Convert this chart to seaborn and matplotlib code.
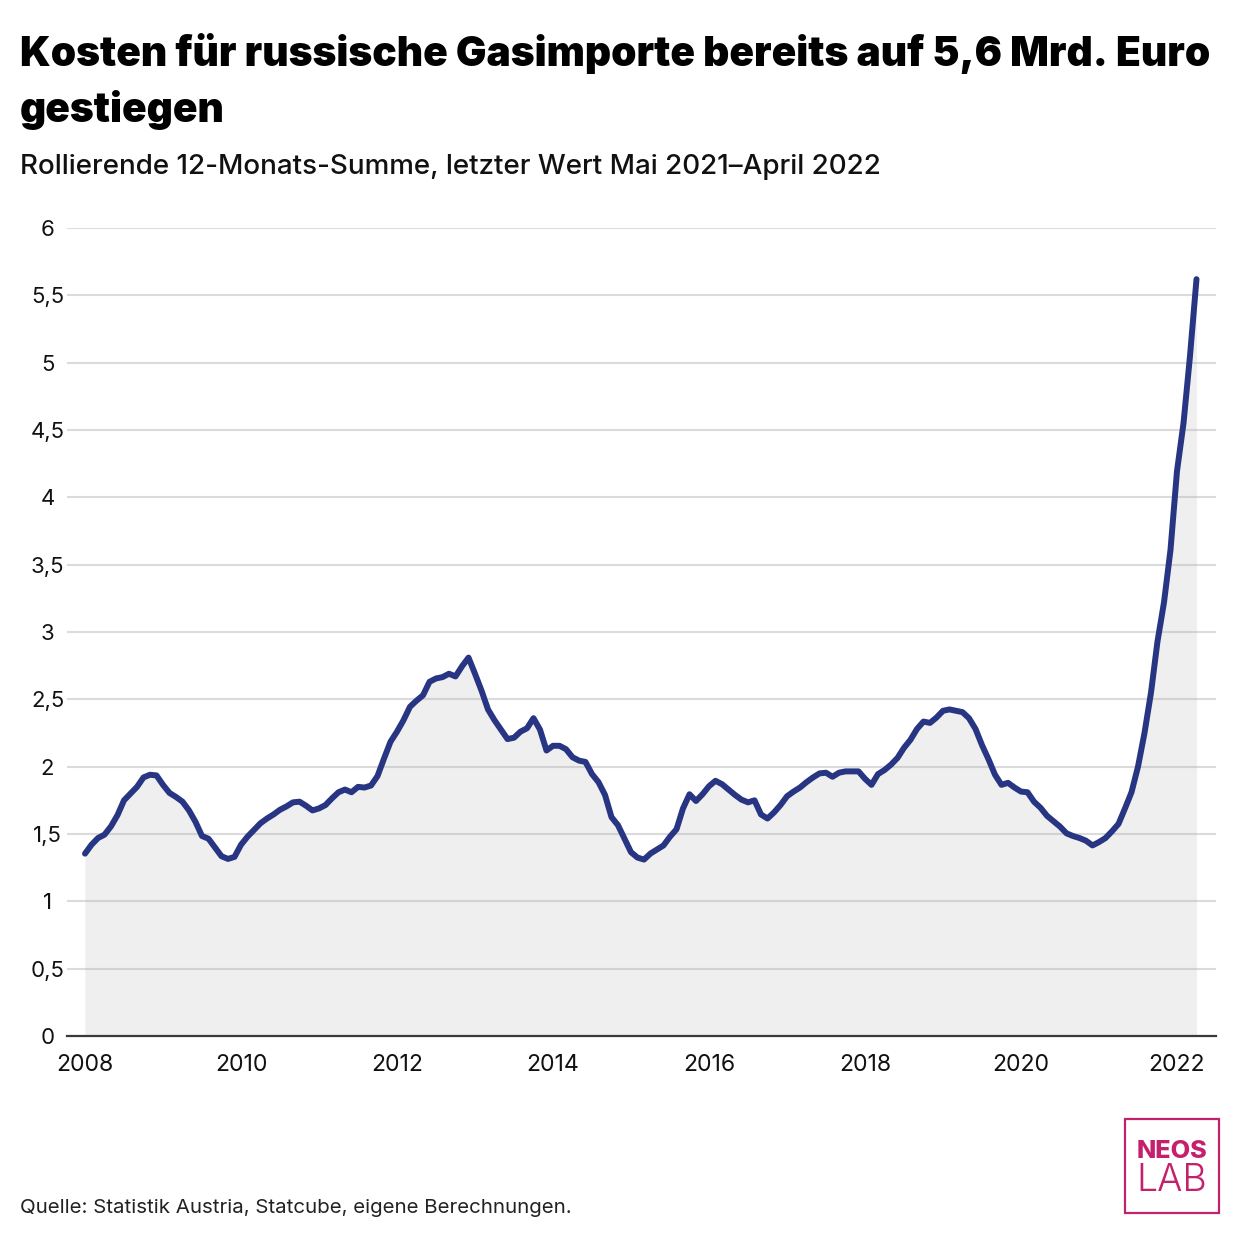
#!/usr/bin/env python
# -*- coding: utf-8 -*-

import numpy as np
import pandas as pd
import matplotlib
matplotlib.use('Agg')
import matplotlib.pyplot as plt
from matplotlib.patches import Rectangle
import seaborn as sns

# rolling 12 month sum, monthly from Jan 2008 to Apr 2022
values = [
  1.354, 1.42, 1.47, 1.495, 1.557, 1.64, 1.75, 1.80, 1.85, 1.92, 1.94, 1.935,
  1.865, 1.805, 1.775, 1.74, 1.675, 1.59, 1.485, 1.465, 1.40, 1.335, 1.315, 1.33,
  1.42, 1.48, 1.53, 1.58, 1.615, 1.645, 1.68, 1.705, 1.735, 1.74, 1.71, 1.675,
  1.69, 1.715, 1.765, 1.81, 1.83, 1.81, 1.85, 1.845, 1.86, 1.93, 2.06, 2.185,
  2.26, 2.345, 2.445, 2.49, 2.53, 2.63, 2.655, 2.665, 2.69, 2.67, 2.745, 2.81,
  2.69, 2.565, 2.425, 2.345, 2.275, 2.205, 2.215, 2.26, 2.285, 2.36, 2.275, 2.12,
  2.155, 2.155, 2.13, 2.07, 2.045, 2.035, 1.945, 1.885, 1.79, 1.625, 1.565, 1.465,
  1.365, 1.325, 1.31, 1.355, 1.385, 1.415, 1.48, 1.535, 1.69, 1.795, 1.745, 1.795,
  1.855, 1.895, 1.87, 1.83, 1.79, 1.755, 1.735, 1.75, 1.645, 1.615, 1.66, 1.715,
  1.78, 1.815, 1.845, 1.885, 1.92, 1.95, 1.955, 1.925, 1.955, 1.965, 1.965, 1.965,
  1.91, 1.865, 1.945, 1.975, 2.015, 2.065, 2.14, 2.20, 2.28, 2.335, 2.325, 2.365,
  2.415, 2.425, 2.415, 2.405, 2.36, 2.28, 2.16, 2.055, 1.94, 1.865, 1.88, 1.845,
  1.815, 1.81, 1.74, 1.695, 1.635, 1.595, 1.555, 1.505, 1.485, 1.47, 1.45, 1.415,
  1.44, 1.47, 1.52, 1.575, 1.69, 1.81, 2.00, 2.25, 2.55, 2.93, 3.22, 3.61,
  4.195, 4.55, 5.05, 5.62,
]
y_ticks = [0, 0.5, 1, 1.5, 2, 2.5, 3, 3.5, 4, 4.5, 5, 5.5, 6]
y_labels = ['0', '0,5', '1', '1,5', '2', '2,5', '3', '3,5', '4', '4,5', '5', '5,5', '6']
x_ticks = [2008, 2010, 2012, 2014, 2016, 2018, 2020, 2022]

title = 'Kosten für russische Gasimporte bereits auf 5,6 Mrd. Euro\ngestiegen'
subtitle = 'Rollierende 12-Monats-Summe, letzter Wert Mai 2021–April 2022'
source = 'Quelle: Statistik Austria, Statcube, eigene Berechnungen.'

W = 1240.0
LINE = '#273583'
PINK = '#c5206b'

if __name__ == '__main__':

  sns.set_theme(style='white')
  plt.rcParams['font.family'] = ['Inter', 'DejaVu Sans']

  data = pd.DataFrame({'year': 2008 + np.arange(len(values)) / 12, 'cost': values})

  fig = plt.figure(figsize=(12.4, 12.4), dpi=100, facecolor='white')
  ax = fig.add_axes([67 / W, 1 - 1036 / W, (1216 - 67) / W, (1036 - 228) / W])

  ax.fill_between(data.year, data.cost, color='#efefef', lw=0, zorder=1)
  ax.hlines(y_ticks[1:], 0, 1, transform=ax.get_yaxis_transform(),
            color='#b4b4b4', lw=1.5, alpha=0.48, zorder=2)
  sns.lineplot(data=data, x='year', y='cost', ax=ax, color=LINE, lw=4.3,
               solid_capstyle='round', solid_joinstyle='round', zorder=4, clip_on=False)

  ax.set_xlim(2008 - 18 / 78, 2008 + (1216 - 85) / 78)
  ax.set_ylim(0, 6)
  ax.set_xlabel('')
  ax.set_ylabel('')
  ax.set_xticks(x_ticks)
  ax.set_xticklabels([str(x) for x in x_ticks])
  ax.set_yticks(y_ticks)
  ax.set_yticklabels(y_labels)
  ax.tick_params(axis='both', length=0, labelcolor='#111111')
  ax.tick_params(axis='x', pad=13, labelsize=16.6)
  ax.tick_params(axis='y', pad=14, labelsize=16)
  for lab in ax.get_yticklabels():
    lab.set_horizontalalignment('center')

  sns.despine(ax=ax, top=True, right=True, left=True, bottom=False)
  ax.spines['bottom'].set_color('#3a3a3a')
  ax.spines['bottom'].set_linewidth(1.6)
  ax.spines['bottom'].set_zorder(5)

  fig.text(20 / W, 1 - 33 / W, title, fontsize=29.25, fontweight=900, color='black',
           va='top', ha='left', linespacing=1.49)
  fig.text(20 / W, 1 - 167 / W, subtitle, fontsize=20, fontweight=500, color='#111111',
           va='center', ha='left')
  fig.text(20 / W, 1 - 1208 / W, source, fontsize=14.75, color='#222222',
           va='center', ha='left')

  # logo box
  fig.add_artist(Rectangle((1125 / W, 1 - 1213 / W), 94 / W, 94 / W, transform=fig.transFigure,
                           fill=False, edgecolor=PINK, lw=1.6))
  fig.text(1171.5 / W, 1 - 1151 / W, 'NEOS', fontsize=18.2, fontweight=800, color=PINK,
           va='center', ha='center')
  fig.text(1172 / W, 1 - 1181 / W, 'LAB', fontsize=27, fontweight=300, color=PINK,
           va='center', ha='center')

  fig.savefig('out.png', dpi=100)
